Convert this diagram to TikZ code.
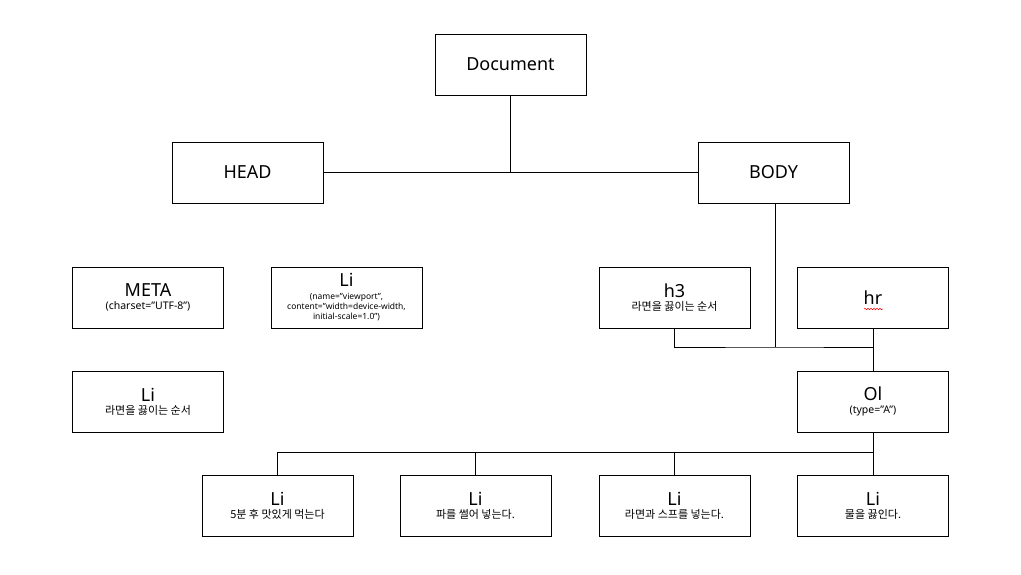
\documentclass[tikz,border=0pt]{standalone}
\usepackage{fontspec}
\setmainfont{Noto Sans}
\newfontfamily\kr{Noto Sans CJK KR}
\usetikzlibrary{positioning,decorations.pathmorphing}
\newcommand{\ttl}[1]{{\fontsize{18}{18}\selectfont #1}}
\newcommand{\sub}[1]{{\fontsize{10.5}{10}\selectfont #1}}
\newcommand{\ksub}[1]{{\fontsize{11}{10}\selectfont\kr #1}}
\newcommand{\attr}[1]{{\fontsize{8.5}{10}\selectfont #1}}

\begin{document}
\begin{tikzpicture}[
    x=1pt,y=-1pt,
    line width=0.8pt,
    font=\fontsize{10}{10}\selectfont,
    box/.style={draw,line width=0.8pt,align=center,minimum width=151pt,minimum height=61pt,inner sep=1pt},
    conn/.style={line width=0.8pt}
  ]
    \fill[white] (0,0) rectangle (1021,574);
    \useasboundingbox (0,0) rectangle (1021,574);

    % top levels
    \node[box] (doc) at (510.5,64.5) {\ttl{Document}};
    \node[box] (head) at (247.5,172.5) {\ttl{HEAD}};
    \node[box] (body) at (773.5,172.5) {\ttl{BODY}};

    % head children
    \node[box] (meta) at (148,297.5) {\ttl{META}\\[3pt]\sub{(charset="UTF-8")}};
    \node[box] (livp) at (346.5,297.5) {\ttl{Li}\\[3pt]\attr{(name="viewport",}\\\attr{content="width=device-width,}\\\attr{initial-scale=1.0")}};
    \node[box] (lihd) at (148,401.5) {\ttl{Li}\\[3pt]\ksub{라면을 끓이는 순서}};

    % body children
    \node[box] (h3) at (674.5,297.5) {\ttl{h3}\\[3pt]\ksub{라면을 끓이는 순서}};
    \node[box] (hr) at (873,297.5) {\ttl{hr}};
    \node[box] (ol) at (873,401.5) {\ttl{Ol}\\[3pt]\sub{(type="A")}};

    % list items
    \node[box] (li1) at (277.5,505.5) {\ttl{Li}\\[3pt]\ksub{5분 후 맛있게 먹는다}};
    \node[box] (li2) at (475.5,505.5) {\ttl{Li}\\[3pt]\ksub{파를 썰어 넣는다.}};
    \node[box] (li3) at (674.5,505.5) {\ttl{Li}\\[3pt]\ksub{라면과 스프를 넣는다.}};
    \node[box] (li4) at (873,505.5) {\ttl{Li}\\[3pt]\ksub{물을 끓인다.}};

    \coordinate (bodyjoin) at (775,347);
    \coordinate (oljoin) at (873,452);

    \draw[conn] (head) -- (body);
    \draw[conn] (doc) -- (doc |- head);
    \draw[conn] (body.south -| bodyjoin) -- (bodyjoin);
    \draw[conn] (h3.south) |- (bodyjoin) -| (hr.south);
    \draw[conn] (hr) -- (ol);
    \draw[conn] (ol) -- (oljoin);
    \foreach \n in {li1,li2,li3}
      \draw[conn] (\n.north) |- (oljoin);
    \draw[conn] (oljoin) -- (li4);

    % spell-check squiggle
    \draw[red,line width=0.5pt,decorate,decoration={snake,amplitude=0.8pt,segment length=3pt}] (864,309) -- (883,309);
  \end{tikzpicture}
\end{document}
